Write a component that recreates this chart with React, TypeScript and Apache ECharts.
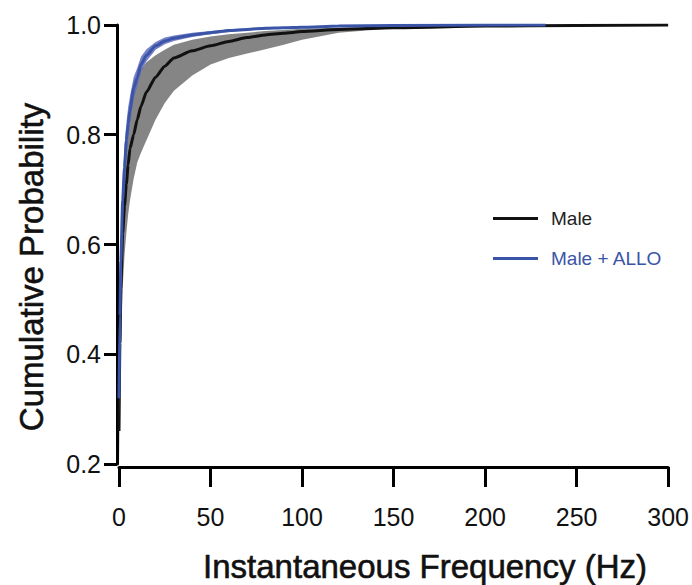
import React, { useEffect, useRef } from "react";
import * as echarts from "echarts";

// Frequency grid (Hz)
const freq = [0, 0.5, 1, 2, 3, 4, 5, 6, 8, 10, 12, 15, 20, 25, 30, 40, 50, 60, 70, 80, 90, 100, 120, 150, 200, 250, 300];
const maleMean = [0.26, 0.42, 0.52, 0.62, 0.67, 0.71, 0.745, 0.775, 0.8, 0.828, 0.852, 0.878, 0.905, 0.925, 0.94, 0.953, 0.962, 0.97, 0.977, 0.982, 0.985, 0.988, 0.992, 0.995, 0.998, 0.999, 1.0];
const maleLower = [0.2, 0.32, 0.4, 0.52, 0.58, 0.62, 0.655, 0.68, 0.72, 0.75, 0.767, 0.79, 0.828, 0.858, 0.88, 0.908, 0.928, 0.94, 0.948, 0.956, 0.964, 0.973, 0.986, 0.994, 0.997, 0.999, 1.0];
const maleUpper = [0.3, 0.5, 0.6, 0.7, 0.76, 0.8, 0.83, 0.855, 0.885, 0.905, 0.918, 0.932, 0.945, 0.955, 0.964, 0.973, 0.979, 0.983, 0.986, 0.989, 0.991, 0.993, 0.995, 0.997, 0.999, 1.0, 1.0];

const alloFreq = [0, 0.5, 1, 2, 3, 4, 5, 6, 8, 10, 12, 15, 20, 25, 30, 40, 50, 60, 70, 80, 90, 100, 120, 150, 200, 233];
const alloMean = [0.32, 0.47, 0.57, 0.68, 0.74, 0.79, 0.82, 0.845, 0.885, 0.905, 0.928, 0.945, 0.962, 0.971, 0.976, 0.982, 0.986, 0.99, 0.992, 0.994, 0.995, 0.996, 0.998, 0.999, 1.0, 1.0];
const alloUpper = [0.36, 0.51, 0.61, 0.72, 0.775, 0.82, 0.85, 0.87, 0.905, 0.922, 0.942, 0.956, 0.969, 0.977, 0.981, 0.986, 0.989, 0.992, 0.994, 0.995, 0.996, 0.997, 0.999, 1.0, 1.0, 1.0];
const alloLower = [0.28, 0.43, 0.53, 0.64, 0.705, 0.76, 0.79, 0.82, 0.865, 0.888, 0.914, 0.934, 0.955, 0.965, 0.971, 0.978, 0.983, 0.987, 0.99, 0.992, 0.994, 0.995, 0.997, 0.998, 0.999, 1.0];

const xTicks = [0, 50, 100, 150, 200, 250, 300];
const yTicks = [0.2, 0.4, 0.6, 0.8, 1.0];
const seriesNames = ["Male", "Male + ALLO"];
const xTitle = "Instantaneous Frequency (Hz)";
const yTitle = "Cumulative Probability";

const BLACK = "#111111";
const BLUE = "#3a54a8";
const GRAY = "#858585";
const BLUE_BAND = "#5f6bbb";

const TICK_FONT = "'Liberation Sans Narrow', 'Arial Narrow', 'Liberation Sans', Arial, sans-serif";
const FONT = "'Liberation Sans', Arial, sans-serif";

function pairs(xs: number[], ys: number[]) {
  return xs.map((x, i) => [x, ys[i]]);
}

function bandSeries(name: string, xs: number[], lo: number[], hi: number[], color: string, opacity: number, z: number) {
  return {
    name,
    type: "custom",
    z,
    silent: true,
    data: [[xs[0], lo[0]]],
    renderItem: (params: any, api: any) => {
      if (params.dataIndex !== 0) return null;
      const upper = xs.map((x, i) => api.coord([x, hi[i]]));
      const lower = xs.map((x, i) => api.coord([x, lo[i]])).reverse();
      return {
        type: "polygon",
        shape: { points: upper.concat(lower) },
        style: { fill: color, opacity, stroke: "none" },
      };
    },
  };
}

export default function App() {
  const ref = useRef<HTMLDivElement>(null);
  useEffect(() => {
    if (!ref.current) return;
    const chart = echarts.init(ref.current, undefined, { renderer: "svg" });
    chart.setOption({
      animation: false,
      backgroundColor: "#ffffff",
      grid: { left: 119, right: 22, top: 25, bottom: 121, containLabel: false },
      xAxis: {
        type: "value",
        min: 0,
        max: 300,
        interval: 50,
        offset: 3,
        axisLine: { show: true, onZero: false, lineStyle: { color: "#000", width: 3 } },
        axisTick: { show: true, length: 20, lineStyle: { color: "#000", width: 3 } },
        axisLabel: {
          margin: 37,
          fontSize: 25,
          color: "#111",
          fontFamily: TICK_FONT,
          formatter: (v: number) => (xTicks.includes(v) ? String(v) : ""),
        },
        splitLine: { show: false },
      },
      yAxis: {
        type: "value",
        min: 0.2,
        max: 1.0,
        interval: 0.2,
        offset: 2,
        axisLine: { show: true, onZero: false, lineStyle: { color: "#000", width: 3 } },
        axisTick: { show: true, length: 13, lineStyle: { color: "#000", width: 3 } },
        axisLabel: {
          margin: 16,
          fontSize: 25,
          color: "#111",
          fontFamily: TICK_FONT,
          formatter: (v: number) => {
            const t = yTicks.find((y) => Math.abs(y - v) < 1e-6);
            return t !== undefined ? t.toFixed(1) : "";
          },
        },
        splitLine: { show: false },
      },
      legend: {
        orient: "vertical",
        left: 493,
        top: 209,
        padding: 0,
        itemWidth: 45,
        itemHeight: 3,
        itemGap: 21,
        icon: "rect",
        textStyle: { fontSize: 19, fontFamily: FONT, padding: [0, 0, 0, 8] },
        data: [
          { name: seriesNames[0], textStyle: { color: "#222" } },
          { name: seriesNames[1], textStyle: { color: BLUE } },
        ],
      },
      graphic: [
        {
          type: "text",
          x: 425,
          y: 566,
          style: {
            text: xTitle,
            fontSize: 33,
            fontFamily: FONT,
            fill: "#111",
            stroke: "#111",
            lineWidth: 0.6,
            align: "center",
            verticalAlign: "middle",
          },
        },
        {
          type: "text",
          x: 31,
          y: 267,
          rotation: Math.PI / 2,
          style: {
            text: yTitle,
            fontSize: 33,
            fontFamily: FONT,
            fill: "#111",
            stroke: "#111",
            lineWidth: 0.6,
            align: "center",
            verticalAlign: "middle",
          },
        },
      ],
      series: [
        bandSeries("male-band", freq, maleLower, maleUpper, GRAY, 1, 1),
        {
          name: seriesNames[0],
          type: "line",
          z: 2,
          data: pairs(freq, maleMean),
          showSymbol: false,
          smooth: 0.2,
          smoothMonotone: "x",
          lineStyle: { color: BLACK, width: 3 },
          itemStyle: { color: BLACK },
        },
        bandSeries("allo-band", alloFreq, alloLower, alloUpper, BLUE_BAND, 0.85, 3),
        {
          name: seriesNames[1],
          type: "line",
          z: 4,
          data: pairs(alloFreq, alloMean),
          showSymbol: false,
          smooth: 0.2,
          smoothMonotone: "x",
          lineStyle: { color: BLUE, width: 3 },
          itemStyle: { color: BLUE },
        },
      ],
    });
    return () => chart.dispose();
  }, []);
  return <div ref={ref} style={{ width: 692, height: 585, position: "absolute", left: 0, top: 0 }} />;
}
